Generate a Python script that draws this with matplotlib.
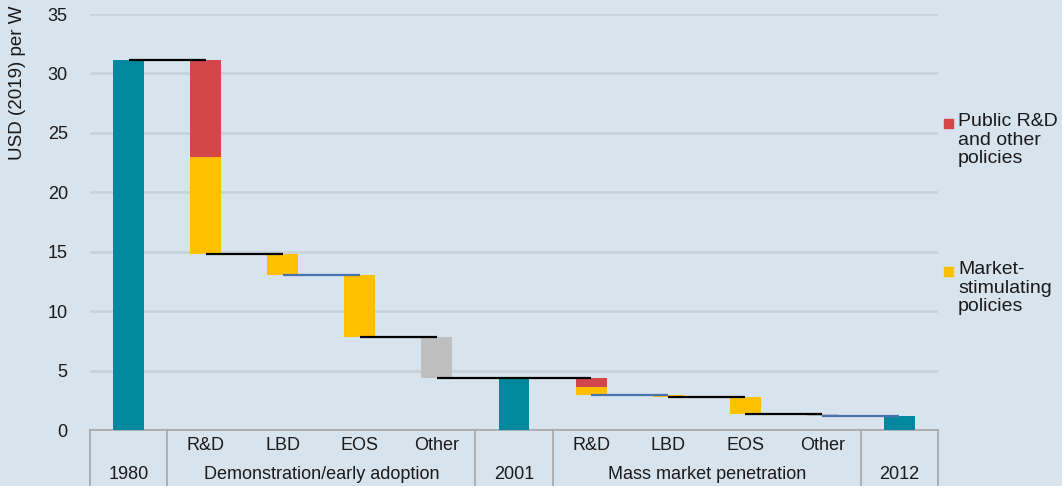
import matplotlib.pyplot as plt
from matplotlib.patches import Rectangle
from matplotlib.transforms import blended_transform_factory

plt.rcParams['font.family'] = ['Liberation Sans', 'DejaVu Sans']

# data (USD (2019) per W)
sub_labels = ['', 'R&D', 'LBD', 'EOS', 'Other', '', 'R&D', 'LBD', 'EOS', 'Other', '']
groups = ['1980', 'Demonstration/early adoption', '2001', 'Mass market penetration', '2012']
group_spans = [(0, 0), (1, 4), (5, 5), (6, 9), (10, 10)]
totals = [31.1, 0, 0, 0, 0, 4.4, 0, 0, 0, 0, 1.18]
public_rd = [0, 8.1, 0, 0, 0, 0, 0.75, 0, 0, 0, 0]
market = [0, 8.2, 1.8, 5.2, 0, 0, 0.7, 0.15, 1.48, 0, 0]
other = [0, 0, 0, 0, 3.4, 0, 0, 0, 0, 0.14, 0]
connector_colors = ['k', 'k', '#4a72b0', 'k', 'k', 'k', '#4a72b0', 'k', 'k', '#4a72b0']

bg = '#d7e3ed'
teal = '#00889e'
red = '#d3474a'
yellow = '#ffc000'
grey = '#bfbfbf'
txt = '#1a1a1a'

fig = plt.figure(figsize=(10.62, 4.86), dpi=100, facecolor=bg)
ax = fig.add_axes([90/1062, 56/486, 848/1062, 416/486], facecolor=bg)

n = len(sub_labels)
x = list(range(n))
w = 0.4
level = 0
levels = []
for i in x:
    if totals[i] > 0:
        ax.bar(i, totals[i], w, color=teal, zorder=3)
        level = totals[i]
    else:
        lo = level - market[i] - public_rd[i] - other[i]
        if other[i]:
            ax.bar(i, other[i], w, bottom=lo, color=grey, zorder=3)
        if market[i]:
            ax.bar(i, market[i], w, bottom=level - public_rd[i] - market[i], color=yellow, zorder=3)
        if public_rd[i]:
            ax.bar(i, public_rd[i], w, bottom=level - public_rd[i], color=red, zorder=3)
        level = lo
    levels.append(level)

for i in range(n - 1):
    ax.plot([i, i + 1], [levels[i], levels[i]], color=connector_colors[i], lw=1.6, zorder=4,
            solid_capstyle='butt')

ax.set_xlim(-0.5, n - 0.5)
ax.set_ylim(0, 35)
ax.set_yticks(range(0, 36, 5))
ax.yaxis.grid(True, color='#c8d0d7', lw=1.8, zorder=0)
ax.set_axisbelow(True)
ax.tick_params(axis='y', length=0, pad=16, labelsize=13, labelcolor=txt)
ax.set_xticks([])
for s in ax.spines.values():
    s.set_visible(False)
fig.text(18/1062, (486-5)/486, 'USD (2019) per W', rotation=90, ha='center', va='top',
         fontsize=13.5, color=txt)

# two-tier category table under the axis
tr = blended_transform_factory(ax.transData, fig.transFigure)
y0 = 56/486
ax.plot([-0.5, n - 0.5], [y0, y0], color='#a6a6a6', lw=1.2, transform=tr, clip_on=False)
for b in [-0.5, 0.5, 4.5, 5.5, 9.5, 10.5]:
    ax.plot([b, b], [0, y0], color='#a6a6a6', lw=1.2, transform=tr, clip_on=False)
for i, lab in enumerate(sub_labels):
    if lab:
        ax.text(i, 41/486, lab, ha='center', va='center', fontsize=13, color=txt, transform=tr)
for g, (a, b) in zip(groups, group_spans):
    ax.text((a + b) / 2, 12/486, g, ha='center', va='center', fontsize=13, color=txt, transform=tr)

# legend
fig.patches.append(Rectangle((944/1062, (486-128)/486), 9/1062, 9/486, color=red,
                             transform=fig.transFigure, figure=fig))
fig.text(958/1062, (486-113)/486, 'Public R&D\nand other\npolicies', ha='left', va='top',
         fontsize=14, color=txt, linespacing=1.12)
fig.patches.append(Rectangle((944/1062, (486-276)/486), 9/1062, 9/486, color=yellow,
                             transform=fig.transFigure, figure=fig))
fig.text(958/1062, (486-261)/486, 'Market-\nstimulating\npolicies', ha='left', va='top',
         fontsize=14, color=txt, linespacing=1.12)

fig.savefig('out.png', dpi=100, facecolor=bg)
